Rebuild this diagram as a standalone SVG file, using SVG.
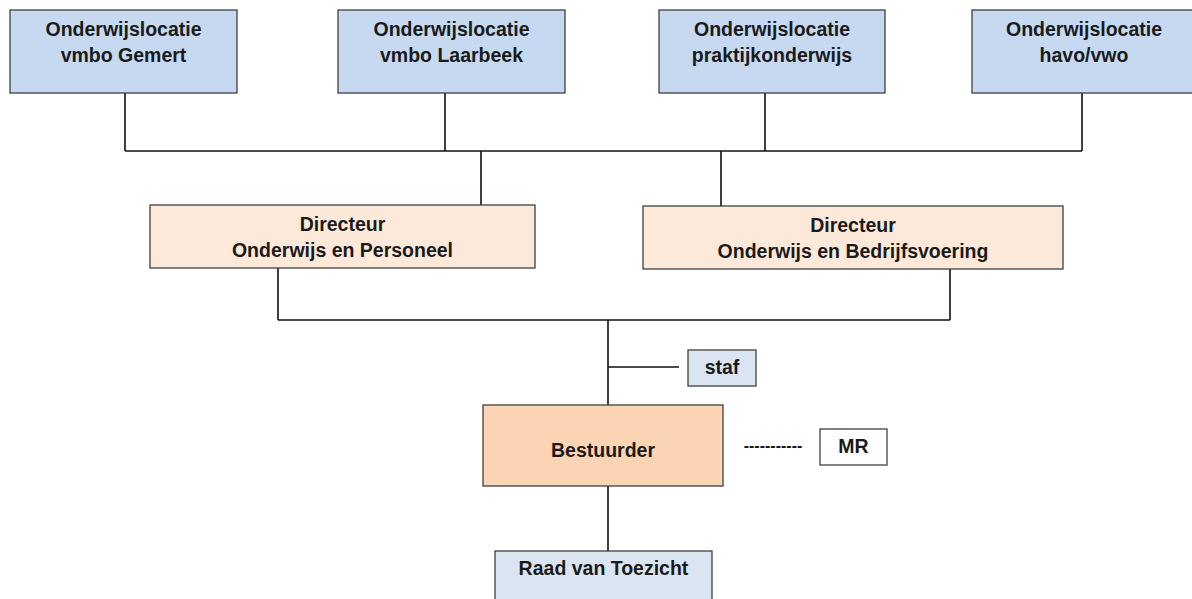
<svg xmlns="http://www.w3.org/2000/svg" width="1192" height="599" viewBox="0 0 1192 599">
<style>
.box{stroke:#3f3f3f;stroke-width:1.3}
.loc{fill:#c6d9f0}
.dir{fill:#fde9d9}
.bes{fill:#fbd4b4}
.lt{fill:#dbe5f1}
.wh{fill:#ffffff}
.t{font-family:"Liberation Sans",Arial,sans-serif;font-weight:bold;font-size:19.5px;fill:#1a1a1a;text-anchor:middle}
.c{fill:none;stroke:#111;stroke-width:1.6}
</style>
<rect width="1192" height="599" fill="#ffffff"/>
<g id="connectors">
<path class="c" d="M125 93V151M445 93V151M765 93V151M1082 93V151M125 151H1082"/>
<path class="c" d="M481 151V205M721 151V206"/>
<path class="c" d="M278 268V320M950 269V320M278 320H950"/>
<path class="c" d="M608 320V405M608 367H679"/>
<path class="c" d="M608 486V551"/>
</g>
<g id="loc1"><rect class="box loc" x="10" y="10" width="227" height="83"/><text class="t" x="123.5" y="36">Onderwijslocatie</text><text class="t" x="123.5" y="62">vmbo Gemert</text></g>
<g id="loc2"><rect class="box loc" x="338" y="10" width="227" height="83"/><text class="t" x="451.5" y="36">Onderwijslocatie</text><text class="t" x="451.5" y="62">vmbo Laarbeek</text></g>
<g id="loc3"><rect class="box loc" x="659" y="10" width="226" height="83"/><text class="t" x="772" y="36">Onderwijslocatie</text><text class="t" x="772" y="62">praktijkonderwijs</text></g>
<g id="loc4"><rect class="box loc" x="972" y="10" width="226" height="83"/><text class="t" x="1084" y="36">Onderwijslocatie</text><text class="t" x="1084" y="62">havo/vwo</text></g>
<g id="dir1"><rect class="box dir" x="150" y="205" width="385" height="63"/><text class="t" x="342.5" y="231">Directeur</text><text class="t" x="342.5" y="257">Onderwijs en Personeel</text></g>
<g id="dir2"><rect class="box dir" x="643" y="206" width="420" height="63"/><text class="t" x="853" y="232">Directeur</text><text class="t" x="853" y="258">Onderwijs en Bedrijfsvoering</text></g>
<g id="staf"><rect class="box lt" x="688" y="350" width="68" height="36"/><text class="t" x="722" y="374">staf</text></g>
<g id="bestuurder"><rect class="box bes" x="483" y="405" width="240" height="81"/><text class="t" x="603" y="457">Bestuurder</text></g>
<g id="mr-link"><text class="t" x="773" y="451" style="font-size:16px">-----------</text></g>
<g id="mr"><rect class="box wh" x="820" y="429" width="67" height="36"/><text class="t" x="853.5" y="453">MR</text></g>
<g id="rvt"><rect class="box lt" x="495" y="551" width="217" height="60"/><text class="t" x="603.5" y="575">Raad van Toezicht</text></g>
</svg>
